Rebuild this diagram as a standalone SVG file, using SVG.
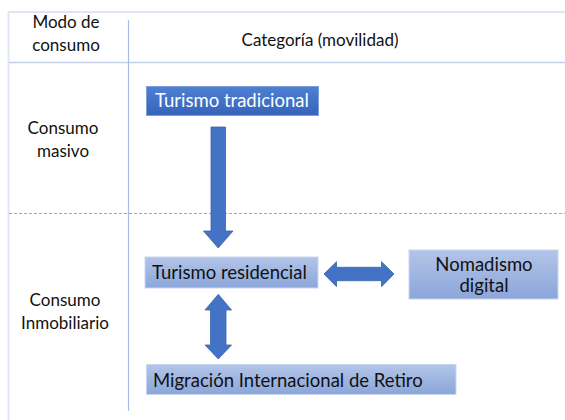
<svg xmlns="http://www.w3.org/2000/svg" width="565" height="420" viewBox="0 0 565 420">
<defs>
<linearGradient id="gDark" x1="0" y1="0" x2="0" y2="1">
<stop offset="0" stop-color="#4f80d3"/>
<stop offset="1" stop-color="#3563ba"/>
</linearGradient>
<linearGradient id="gLight" x1="0" y1="0" x2="0" y2="1">
<stop offset="0" stop-color="#b3c4e8"/>
<stop offset="1" stop-color="#8ba6da"/>
</linearGradient>
<style>
text{font-family:Lato,"Open Sans","Liberation Sans",sans-serif;fill:#111}
.hdr{font-size:17px;text-anchor:middle}
.lbl{font-size:18.5px}
.white{fill:#fff}
.arrow{fill:#4472c4;stroke:#3b64b0;stroke-width:0.8}
.boxL{fill:url(#gLight);stroke:#c9d5ee;stroke-width:1}
.boxD{fill:url(#gDark);stroke:#7f9fd8;stroke-width:1}
</style>
</defs>
<rect width="565" height="420" fill="#fff"/>
<g id="table">
<line x1="8" y1="12" x2="565" y2="12" stroke="#dfe6f1" stroke-width="2"/>
<line x1="8.5" y1="12" x2="8.5" y2="420" stroke="#dfe6f1" stroke-width="2"/>
<line x1="9" y1="62.5" x2="565" y2="62.5" stroke="#c3cfe8" stroke-width="1.5"/>
<line x1="128.5" y1="20" x2="128.5" y2="411" stroke="#a9bde2" stroke-width="1.2"/>
<line x1="9" y1="213.5" x2="565" y2="213.5" stroke="#8ea8d8" stroke-width="1" stroke-dasharray="3 2"/>
<text class="hdr" x="66" y="28">Modo de</text>
<text class="hdr" x="66" y="51">consumo</text>
<text class="hdr" x="320" y="46">Categoría (movilidad)</text>
<text class="hdr" x="63" y="134">Consumo</text>
<text class="hdr" x="63" y="157">masivo</text>
<text class="hdr" x="65" y="306">Consumo</text>
<text class="hdr" x="65" y="329">Inmobiliario</text>
</g>
<g id="connectors">
<polygon class="arrow" points="211,127 225.5,127 225.5,231 233,231 218.2,248 203.5,231 211,231"/>
<polygon class="arrow" points="324,274 336.5,261.7 336.5,267.3 381.5,267.3 381.5,261.7 394,274 381.5,286.7 381.5,280.7 336.5,280.7 336.5,286.7"/>
<polygon class="arrow" points="218.3,294.3 231.5,310 226,310 226,345 231.5,345 218.3,359 205,345 210.5,345 210.5,310 205,310"/>
</g>
<g id="turismo-tradicional">
<rect class="boxD" x="146.5" y="86.5" width="172" height="29"/>
<text class="lbl white" x="155" y="107">Turismo tradicional</text>
</g>
<g id="turismo-residencial">
<rect class="boxL" x="145" y="257" width="173" height="31"/>
<text class="lbl" x="152" y="279">Turismo residencial</text>
</g>
<g id="nomadismo-digital">
<rect class="boxL" x="409" y="250" width="149" height="49"/>
<text class="lbl" x="484" y="271" text-anchor="middle">Nomadismo</text>
<text class="lbl" x="484" y="292" text-anchor="middle">digital</text>
</g>
<g id="migracion">
<rect class="boxL" x="146.5" y="364.5" width="309.5" height="30"/>
<text class="lbl" x="153" y="386.5">Migración Internacional de Retiro</text>
</g>
</svg>
